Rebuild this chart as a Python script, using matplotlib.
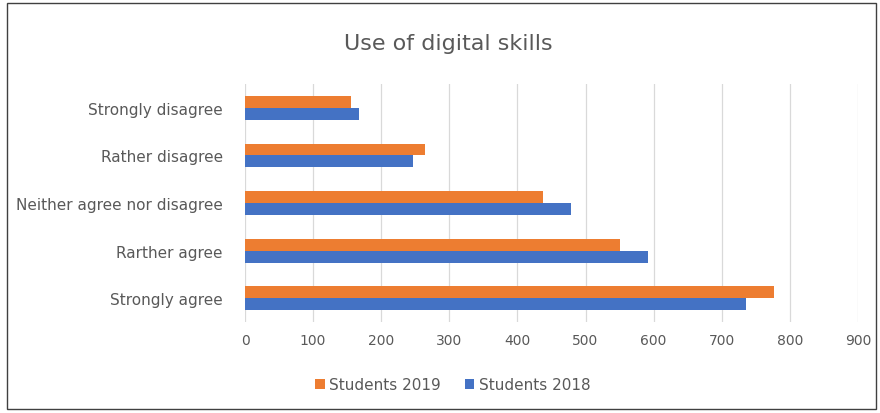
import matplotlib
matplotlib.use("Agg")
import matplotlib.pyplot as plt
import numpy as np
from matplotlib.patches import Rectangle

categories = ["Strongly agree", "Rarther agree", "Neither agree nor disagree", "Rather disagree", "Strongly disagree"]
students_2019 = [777, 551, 438, 264, 155]
students_2018 = [736, 591, 478, 247, 168]
x_ticks = [0, 100, 200, 300, 400, 500, 600, 700, 800, 900]

plt.rcParams['font.family'] = ['DejaVu Sans']
text_color = "#595959"

fig = plt.figure(figsize=(8.8, 4.14), dpi=100)
ax = fig.add_axes([245/880, 1-323/414, (858-245)/880, (323-85)/414])

y = np.arange(len(categories))
h = 0.25
ax.barh(y + h/2, students_2019, height=h, color="#ED7D31", label="Students 2019", zorder=3)
ax.barh(y - h/2, students_2018, height=h, color="#4472C4", label="Students 2018", zorder=3)

ax.set_xlim(0, 900)
ax.set_ylim(-0.5, len(categories) - 0.5)
ax.set_xticks(x_ticks)
ax.set_xticklabels([str(v) for v in x_ticks], fontsize=10, color=text_color)
ax.set_yticks(y)
ax.set_yticklabels(categories, fontsize=11, color=text_color)
ax.tick_params(axis='both', length=0)
ax.tick_params(axis='x', pad=8)
ax.tick_params(axis='y', pad=16)
ax.grid(axis='x', color="#D9D9D9", linewidth=0.9, zorder=0)
for s in ax.spines.values():
    s.set_visible(False)

fig.text(448/880, 1-44/414, "Use of digital skills", ha='center', va='center', fontsize=16, color=text_color)

leg = fig.legend(loc='center', bbox_to_anchor=(453/880, 1-386/414), ncol=2, frameon=False,
                 fontsize=11, handlelength=0.6, handleheight=0.6, handletextpad=0.3, columnspacing=1.6)
for t in leg.get_texts():
    t.set_color(text_color)

fig.patches.append(Rectangle((7/880, 4/414), 869/880, 406/414, transform=fig.transFigure,
                             fill=False, edgecolor="#404040", linewidth=1.0))

fig.savefig("out.png", dpi=100)
